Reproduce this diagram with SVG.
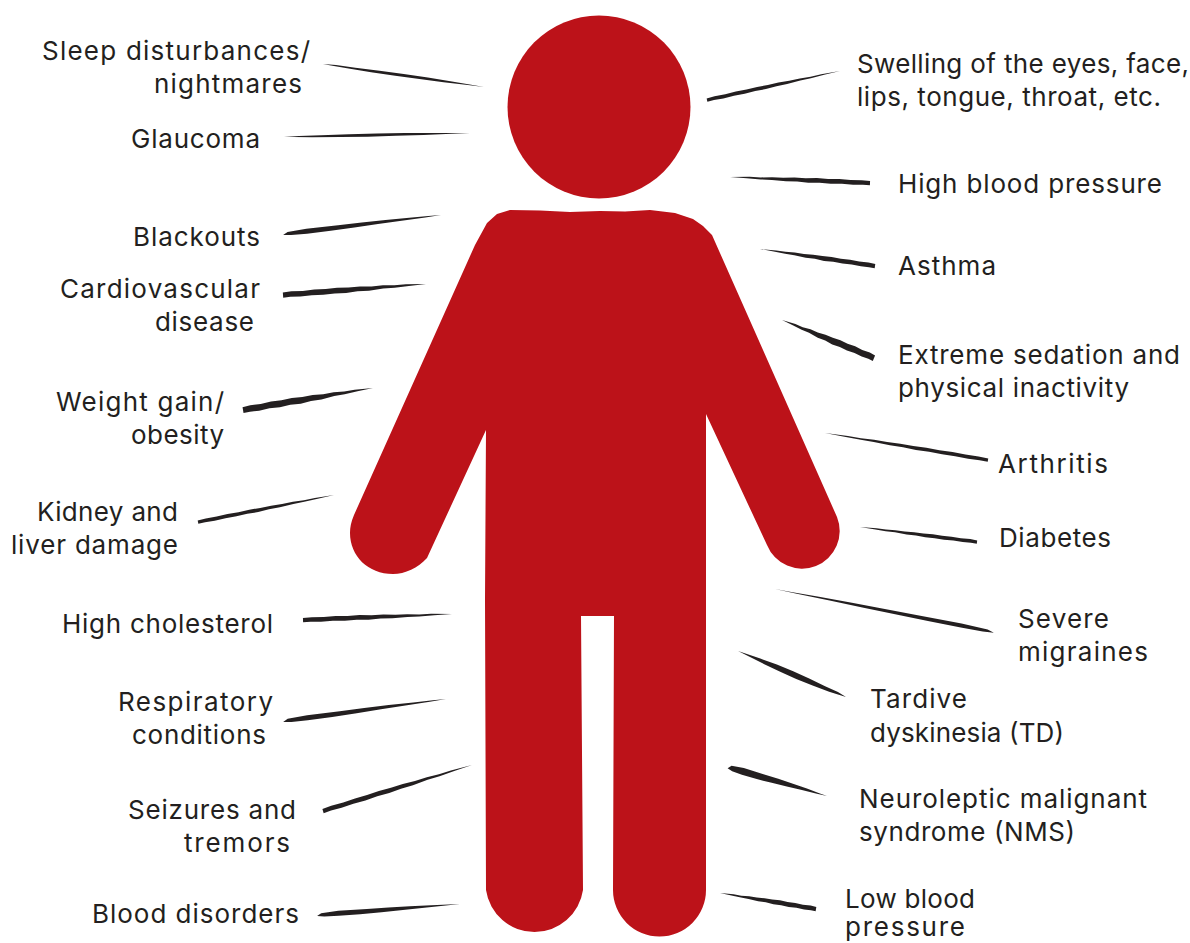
<svg xmlns="http://www.w3.org/2000/svg" xmlns:xlink="http://www.w3.org/1999/xlink" width="1190" height="943" viewBox="0 0 1190 943">
<style>
text{font-family:"Inter","Liberation Sans",sans-serif;font-size:26px;fill:#231f20}
.fig{fill:#bc1219}
.ink{fill:#231f20}
</style>
<defs>
<path id="sA" d="M0 0L8 -.25 20 -.3 35 -.42 50 -.5 65 -.45 80 -.3 92 -.12 100 0 90 .12 75 .3 60 .42 45 .5 30 .42 15 .28 5 .1Z"/>
<path id="sB" d="M0 .2L3 -.3 15 -.5 35 -.42 50 -.4 65 -.32 80 -.2 92 -.08 100 0 90 .1 75 .2 60 .3 45 .42 30 .5 15 .5 5 .4Z"/>
<path id="sC" d="M0 -.4L6 -.5 14 -.42 22 -.52 30 -.44 38 -.52 46 -.42 54 -.44 62 -.3 70 -.33 78 -.18 86 -.2 100 0 88 .1 78 .22 70 .22 60 .38 52 .34 44 .48 36 .4 28 .48 20 .4 12 .48 5 .4 0 .45Z"/>
</defs>
<g id="connectors" class="ink">
<use xlink:href="#sA" href="#sA" transform="matrix(1.61 .23 -.42 2.97 323 64)"/>
<use xlink:href="#sA" href="#sA" transform="matrix(1.86 -.04 .06 3 284 137)"/>
<use xlink:href="#sB" href="#sB" transform="matrix(1.58 -.19 .6 4.97 283 234)"/>
<use xlink:href="#sC" href="#sC" transform="matrix(1.43 -.11 .46 5.98 283 295)"/>
<use xlink:href="#sC" href="#sC" transform="matrix(1.3 -.22 1.17 6.9 243 410)"/>
<use xlink:href="#sC" href="#sC" transform="matrix(1.36 -.27 .78 3.92 198 522)"/>
<use xlink:href="#sC" href="#sC" transform="matrix(1.49 -.06 .2 5 303 620)"/>
<use xlink:href="#sB" href="#sB" transform="matrix(1.63 -.22 .67 4.95 283 721)"/>
<use xlink:href="#sC" href="#sC" transform="matrix(1.49 -.46 1.47 4.78 323 811)"/>
<use xlink:href="#sB" href="#sB" transform="matrix(1.43 -.11 .38 4.99 317 915)"/>
<use xlink:href="#sC" href="#sC" transform="matrix(1.33 -.29 .85 3.9 707 100)"/>
<use xlink:href="#sC" href="#sC" transform="matrix(-1.4 -.06 -.21 5 870 183)"/>
<use xlink:href="#sC" href="#sC" transform="matrix(-1.15 -.17 -.73 4.95 875 266)"/>
<use xlink:href="#sC" href="#sC" transform="matrix(-.92 -.38 -2.67 6.47 874 358)"/>
<use xlink:href="#sC" href="#sC" transform="matrix(-1.63 -.27 -.65 3.95 988 460)"/>
<use xlink:href="#sC" href="#sC" transform="matrix(-1.17 -.15 -.51 3.97 977 542)"/>
<use xlink:href="#sB" href="#sB" transform="matrix(-2.19 -.43 -.77 3.93 994 632)"/>
<use xlink:href="#sA" href="#sA" transform="matrix(-1.08 -.46 -2.36 5.52 846 697)"/>
<use xlink:href="#sB" href="#sB" transform="matrix(.99 .29 -1.97 6.72 728 767)"/>
<use xlink:href="#sC" href="#sC" transform="matrix(-.96 -.16 -.82 4.93 816 909)"/>
</g>
<g id="head"><circle class="fig" cx="599" cy="107" r="91.500"/></g>
<g id="body"><path class="fig" d="M510 210L540 210.500 570 212 600 211 625 211.500 650 210 675 213 693 219 703 226 712 235 837 517 A37.500 37.500 0 0 1 767 545 L706 414 L706 890 A46.500 46.500 0 0 1 613 890 L614 616 581 616 583 890 A49 49 0 0 1 486 890 L485 600 486 430 L427 558 C418 568 405 574 393 574 C368 574 350 556 350 533 C350 527 351 522 354 515 L475 245 487 223 497 214Z"/></g>
<g id="l-sleep"><text x="42" y="60" textLength="268">Sleep disturbances/</text><text x="154" y="93" textLength="148">nightmares</text></g>
<g id="l-glaucoma"><text x="131" y="148" textLength="129">Glaucoma</text></g>
<g id="l-blackouts"><text x="133" y="246" textLength="127">Blackouts</text></g>
<g id="l-cardio"><text x="60" y="298" textLength="200">Cardiovascular</text><text x="155" y="331" textLength="99">disease</text></g>
<g id="l-weight"><text x="56" y="411" textLength="168">Weight gain/</text><text x="131" y="444" textLength="93">obesity</text></g>
<g id="l-kidney"><text x="37" y="521" textLength="141">Kidney and</text><text x="11" y="554" textLength="167">liver damage</text></g>
<g id="l-cholesterol"><text x="62" y="633" textLength="211">High cholesterol</text></g>
<g id="l-respiratory"><text x="118" y="711" textLength="155">Respiratory</text><text x="132" y="744" textLength="134">conditions</text></g>
<g id="l-seizures"><text x="128" y="819" textLength="168">Seizures and</text><text x="184" y="852" textLength="106">tremors</text></g>
<g id="l-blood"><text x="92" y="923" textLength="207">Blood disorders</text></g>
<g id="l-swelling"><text x="857" y="73" textLength="332">Swelling of the eyes, face,</text><text x="857" y="106" textLength="304">lips, tongue, throat, etc.</text></g>
<g id="l-hbp"><text x="898" y="193" textLength="264">High blood pressure</text></g>
<g id="l-asthma"><text x="898" y="275" textLength="98">Asthma</text></g>
<g id="l-sedation"><text x="898" y="364" textLength="282">Extreme sedation and</text><text x="898" y="397" textLength="231">physical inactivity</text></g>
<g id="l-arthritis"><text x="998" y="473" textLength="110">Arthritis</text></g>
<g id="l-diabetes"><text x="999" y="547" textLength="112">Diabetes</text></g>
<g id="l-migraines"><text x="1018" y="628" textLength="91">Severe</text><text x="1018" y="661" textLength="130">migraines</text></g>
<g id="l-td"><text x="870" y="708" textLength="97">Tardive</text><text x="870" y="742" textLength="194">dyskinesia (TD)</text></g>
<g id="l-nms"><text x="859" y="808" textLength="288">Neuroleptic malignant</text><text x="859" y="841" textLength="216">syndrome (NMS)</text></g>
<g id="l-lbp"><text x="845" y="908" textLength="130">Low blood</text><text x="845" y="936" textLength="120">pressure</text></g>
</svg>
